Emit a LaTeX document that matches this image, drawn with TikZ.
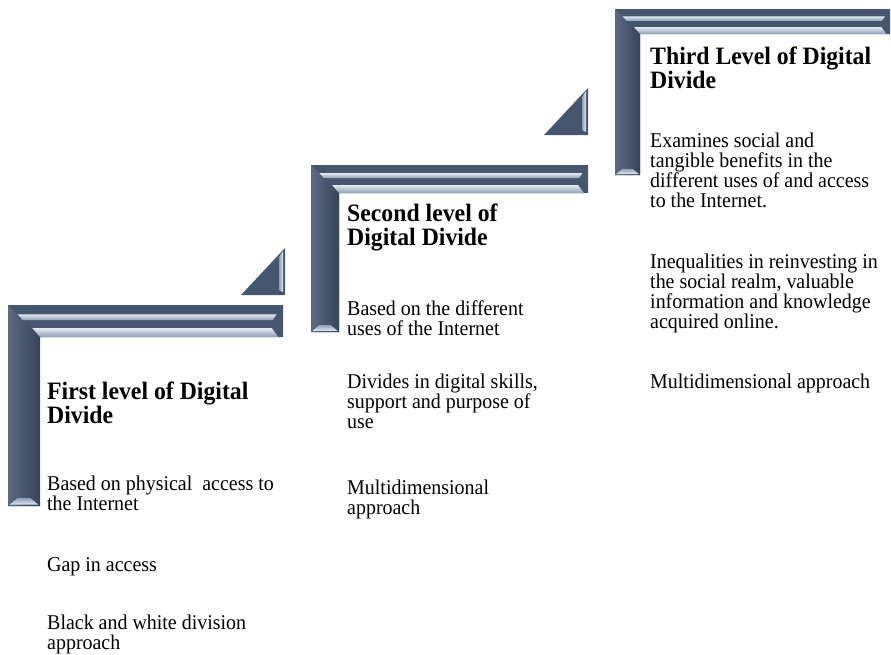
\documentclass[tikz,border=0pt]{standalone}
\usepackage{fontspec}
\setmainfont{Liberation Serif}
\newfontfamily\levelfont[FakeStretch=0.95]{Liberation Serif}
\usetikzlibrary{positioning}

\definecolor{framedark}{HTML}{47566F}
\definecolor{framedeep}{HTML}{34425A}
\definecolor{frameedge}{HTML}{5D6B82}
\definecolor{framemid}{HTML}{8E9EB4}
\definecolor{framelight}{HTML}{E2EAF2}

% L-shaped frame: x0, y0 (top left), x1 (right end), yb (bottom), thickness
\newcommand{\levelframe}[5]{%
  \fill[framedark] (#1,-#2) -- (#3,-#2) -- (#3,{-#2-#5}) -- ({#1+#5},{-#2-#5})
    -- ({#1+#5},-#4) -- (#1,-#4) -- cycle;
  \shade[left color=frameedge, right color=framedeep] (#1,-#2) -- ({#1+#5},{-#2-#5})
    -- ({#1+#5},-#4) -- (#1,-#4) -- cycle;
  \shade[top color=framelight, bottom color=framemid] ({#1+0.3*#5},{-#2-0.29*#5})
    -- ({#3-0.2*#5},{-#2-0.29*#5}) -- ({#3-0.32*#5},{-#2-0.47*#5})
    -- ({#1+0.46*#5},{-#2-0.47*#5}) -- cycle;
  \shade[top color=framelight, bottom color=framemid] ({#1+0.76*#5},{-#2-0.72*#5})
    -- ({#3-0.35*#5},{-#2-0.72*#5}) -- ({#3-0.15*#5},{-#2-#5})
    -- ({#1+#5},{-#2-#5}) -- cycle;
  \shade[top color=framemid, bottom color=framelight] ({#1+0.3*#5},{-#4+0.25*#5})
    -- ({#1+0.7*#5},{-#4+0.25*#5}) -- ({#1+0.95*#5},{-#4+0.04*#5})
    -- ({#1+0.05*#5},{-#4+0.04*#5}) -- cycle;
}

% step triangle: right x, bottom y
\newcommand{\leveltri}[2]{%
  \fill[framedark] ({#1-44},-#2) -- (#1,-#2) -- (#1,{-#2+47}) -- cycle;
  \shade[left color=framemid, right color=framelight] ({#1-6},{-#2+38})
    -- ({#1-2},{-#2+44}) -- ({#1-2},{-#2+3}) -- ({#1-6},{-#2+5}) -- cycle;
}

\tikzset{
  leveltitle/.style={font=\levelfont\fontsize{25}{23.5}\selectfont\bfseries,
    anchor=base west, align=left, inner sep=0pt},
  levelbody/.style={font=\levelfont\fontsize{21}{20}\selectfont,
    anchor=base west, align=left, inner sep=0pt}
}

\begin{document}
\begin{tikzpicture}[x=1pt, y=1pt]
  \useasboundingbox (0,0) rectangle (891,-654);

  % Frames and steps
  \levelframe{8}{305}{283}{506}{32}
  \levelframe{311}{165}{588}{332}{28}
  \levelframe{615}{9}{890}{175}{25}
  \leveltri{285}{295}
  \leveltri{588}{135}

  % First level (nodes sit on the baseline of their last line)
  \node[leveltitle] (first) at (47,-423) {First level of Digital\\Divide};
  \node[levelbody] (firstbasis) at (47,-510) {Based on physical\ \ access to\\the Internet};
  \node[levelbody] (firstgap) at (47,-571) {Gap in access};
  \node[levelbody] (firstview) at (47,-649) {Black and white division\\approach};

  % Second level
  \node[leveltitle] (second) at (347,-245) {Second level of\\Digital Divide};
  \node[levelbody] (secondbasis) at (347,-335) {Based on the different\\uses of the Internet};
  \node[levelbody] (secondgap) at (347,-428) {Divides in digital skills,\\support and purpose of\\use};
  \node[levelbody] (secondview) at (347,-514) {Multidimensional\\approach};

  % Third level
  \node[leveltitle] (third) at (650,-88) {Third Level of Digital\\Divide};
  \node[levelbody] (thirdbasis) at (650,-207) {Examines social and\\tangible benefits in the\\different uses of and access\\to the Internet.};
  \node[levelbody] (thirdgap) at (650,-328) {Inequalities in reinvesting in\\the social realm, valuable\\information and knowledge\\acquired online.};
  \node[levelbody] (thirdview) at (650,-388) {Multidimensional approach};
\end{tikzpicture}
\end{document}
